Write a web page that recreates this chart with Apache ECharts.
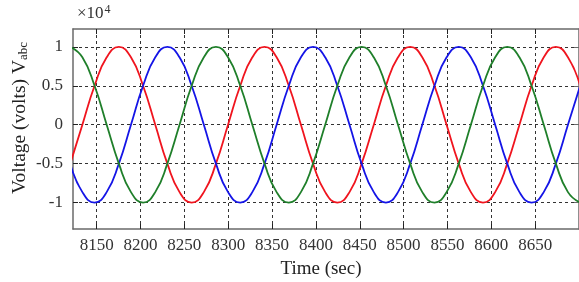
<!DOCTYPE html>
<html><head><meta charset="utf-8">
<script src="https://cdn.jsdelivr.net/npm/echarts@6/dist/echarts.min.js"></script>
<style>html,body{margin:0;padding:0;background:#fff}#c{width:579px;height:282px}</style>
</head><body><div id="c"></div>
<script>
// Sample times (sec)
var times = [8119.9, 8133.7, 8147.6, 8161.4, 8175.3, 8189.1, 8202.9, 8216.8, 8230.6, 8244.5,
  8258.3, 8272.2, 8286.0, 8299.8, 8313.7, 8327.5, 8341.4, 8355.2, 8369.1, 8382.9,
  8396.7, 8410.6, 8424.4, 8438.3, 8452.1, 8466.0, 8479.8, 8493.6, 8507.5, 8521.3,
  8535.2, 8549.0, 8562.9, 8576.7, 8590.5, 8604.4, 8618.2, 8632.1, 8645.9, 8659.8,
  8673.6, 8687.4, 8701.3];
// Phase voltages (volts)
var phaseA = [-5000, 0, 5000, 8660, 10000, 8660, 5000, 0, -5000, -8660, -10000, -8660,
  -5000, 0, 5000, 8660, 10000, 8660, 5000, 0, -5000, -8660, -10000, -8660,
  -5000, 0, 5000, 8660, 10000, 8660, 5000, 0, -5000, -8660, -10000, -8660,
  -5000, 0, 5000, 8660, 10000, 8660, 5000];
var phaseB = [-5000, -8660, -10000, -8660, -5000, 0, 5000, 8660, 10000, 8660, 5000, 0,
  -5000, -8660, -10000, -8660, -5000, 0, 5000, 8660, 10000, 8660, 5000, 0,
  -5000, -8660, -10000, -8660, -5000, 0, 5000, 8660, 10000, 8660, 5000, 0,
  -5000, -8660, -10000, -8660, -5000, 0, 5000];
var phaseC = [10000, 8660, 5000, 0, -5000, -8660, -10000, -8660, -5000, 0, 5000, 8660,
  10000, 8660, 5000, 0, -5000, -8660, -10000, -8660, -5000, 0, 5000, 8660,
  10000, 8660, 5000, 0, -5000, -8660, -10000, -8660, -5000, 0, 5000, 8660,
  10000, 8660, 5000, 0, -5000, -8660, -10000];
var xTicks = [8150, 8200, 8250, 8300, 8350, 8400, 8450, 8500, 8550, 8600, 8650, 8700];
var xTickLabels = [8150, 8200, 8250, 8300, 8350, 8400, 8450, 8500, 8550, 8600, 8650];
var yTicks = [-10000, -5000, 0, 5000, 10000];

function pairs(vals){ return times.map(function(t,i){ return [t, vals[i]]; }); }
var font = '"Liberation Serif", "DejaVu Serif", serif';
var chart = echarts.init(document.getElementById('c'), null, {renderer:'canvas'});
var gridDash = {type:[3,3], color:'#333', width:1};
var axisCol = '#6a6a6a';
chart.setOption({
  animation:false,
  backgroundColor:'#fff',
  grid:{left:73, top:29, width:516, height:200},
  xAxis:[{
    type:'value', min:8123, max:8700,
    axisLine:{show:true, onZero:false, lineStyle:{color:axisCol, width:1.5}},
    axisTick:{show:true, inside:true, length:5, customValues:xTicks, lineStyle:{color:'#222'}},
    splitLine:{show:true, lineStyle:gridDash},
    axisLabel:{show:true, customValues:xTickLabels, margin:8, color:'#333', fontFamily:font, fontSize:17,
      formatter:function(v){ return String(Math.round(v)); }}
  },{
    type:'value', position:'top', min:8123, max:8700,
    axisLine:{show:true, onZero:false, lineStyle:{color:axisCol, width:1.5}},
    axisTick:{show:true, inside:true, length:5, customValues:xTicks, lineStyle:{color:'#222'}},
    splitLine:{show:false}, axisLabel:{show:false}
  }],
  yAxis:[{
    type:'value', min:-13400, max:12300,
    axisLine:{show:true, onZero:false, lineStyle:{color:axisCol, width:1.5}},
    axisTick:{show:true, inside:true, length:5, customValues:yTicks, lineStyle:{color:'#222'}},
    splitLine:{show:true, lineStyle:gridDash},
    axisLabel:{show:true, customValues:yTicks, margin:10, color:'#333', fontFamily:font, fontSize:17,
      formatter:function(v){ return String(v/10000); }}
  },{
    type:'value', position:'right', min:-13400, max:12300,
    axisLine:{show:true, onZero:false, lineStyle:{color:axisCol, width:1.5}},
    axisTick:{show:true, inside:true, length:5, customValues:yTicks}, splitLine:{show:false}, axisLabel:{show:false}
  }],
  series:[
    {type:'line', name:'Va', data:pairs(phaseA), smooth:0.5, showSymbol:false, clip:true,
      lineStyle:{color:'#f0141e', width:1.8}, itemStyle:{color:'#f0141e'}},
    {type:'line', name:'Vb', data:pairs(phaseB), smooth:0.5, showSymbol:false, clip:true,
      lineStyle:{color:'#1414e6', width:1.8}, itemStyle:{color:'#1414e6'}},
    {type:'line', name:'Vc', data:pairs(phaseC), smooth:0.5, showSymbol:false, clip:true,
      lineStyle:{color:'#1f7f2a', width:1.8}, itemStyle:{color:'#1f7f2a'}}
  ],
  graphic:[
    {type:'text', left:77, top:4, style:{
      text:'{a|×10}{s|4}', fill:'#333',
      rich:{a:{fontFamily:font, fontSize:17, fill:'#333'}, s:{fontFamily:font, fontSize:12, fill:'#333', verticalAlign:'top', padding:[0,0,8,1]}}}},
    {type:'text', x:321, y:269, style:{text:'Time (sec)', fontFamily:font, fontSize:19, fill:'#222', align:'center', verticalAlign:'middle'}},
    {type:'text', x:20, y:118, rotation:Math.PI/2, style:{
      text:'{a|Voltage (volts) V}{s|abc}', align:'center', verticalAlign:'middle',
      rich:{a:{fontFamily:font, fontSize:19.5, fill:'#222'}, s:{fontFamily:font, fontSize:13, fill:'#222', padding:[8,0,0,0]}}}}
  ]
});
</script></body></html>
